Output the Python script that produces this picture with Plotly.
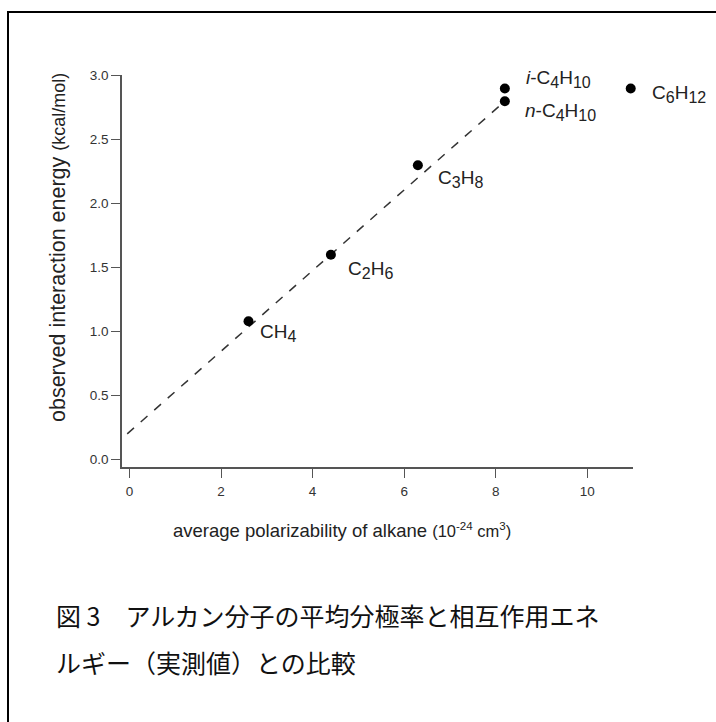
import plotly.graph_objects as go

# ---- data ----
molecules = ["CH<sub>4</sub>", "C<sub>2</sub>H<sub>6</sub>", "C<sub>3</sub>H<sub>8</sub>",
             "<i>i</i>-C<sub>4</sub>H<sub>10</sub>", "<i>n</i>-C<sub>4</sub>H<sub>10</sub>",
             "C<sub>6</sub>H<sub>12</sub>"]
polarizability = [2.6, 4.4, 6.3, 8.2, 8.2, 10.95]
energy = [1.08, 1.60, 2.30, 2.90, 2.80, 2.90]
fit_x = [-0.05, 8.2]
fit_y = [0.20, 2.80]
x_ticks = [0, 2, 4, 6, 8, 10]
y_ticks = [0.0, 0.5, 1.0, 1.5, 2.0, 2.5, 3.0]
label_shift = [(9, -12), (15, -15), (18, -14), (19, 9), (18, -11), (19, -6)]

W_FIG, H_FIG = 716, 722
L, R, T, B = 122, 633, 75, 467
PW, PH = R - L, B - T

def px(xp):
    return (xp - L) / PW

def py(yp):
    return (B - yp) / PH

def chem(s):
    # enlarge subscripts slightly
    return s.replace("<sub>", "<sub><span style='font-size:16px'>").replace("</sub>", "</span></sub>")

fig = go.Figure()
fig.add_trace(go.Scatter(x=fit_x, y=fit_y, mode="lines",
                         line=dict(color="#333", width=1.5, dash="dash"),
                         hoverinfo="skip", showlegend=False))
fig.add_trace(go.Scatter(x=polarizability, y=energy, mode="markers",
                         marker=dict(color="black", size=10), cliponaxis=False,
                         showlegend=False))

for m, xv, yv, (dx, dy) in zip(molecules, polarizability, energy, label_shift):
    fig.add_annotation(x=xv, y=yv, text=chem(m), showarrow=False, xanchor="left",
                       yanchor="middle", xshift=dx, yshift=dy,
                       font=dict(family="Liberation Sans, Arial", size=19, color="#222"))

axis_common = dict(showline=True, linecolor="#555", linewidth=1.5, ticks="outside",
                   ticklen=9, tickwidth=1.3, tickcolor="#555", showgrid=False,
                   zeroline=False,
                   tickfont=dict(family="Liberation Sans, Arial", size=13.5, color="#333"))

fig.update_layout(
    width=W_FIG, height=H_FIG,
    margin=dict(l=L, r=W_FIG - R, t=T, b=H_FIG - B),
    paper_bgcolor="white", plot_bgcolor="white",
    xaxis=dict(range=[-0.164, 11.0], tickvals=x_ticks, ticklabelstandoff=2,
               ticktext=[str(v) for v in x_ticks], **axis_common),
    yaxis=dict(range=[-0.059, 3.005], tickvals=y_ticks,
               ticktext=[f"{v:.1f}" for v in y_ticks], **axis_common),
)

# axis titles
fig.add_annotation(xref="paper", yref="paper", x=px(342), y=py(530),
                   text="average polarizability of alkane <span style='font-size:16.5px'>(10<sup>-24</sup> cm<sup>3</sup>)</span>",
                   showarrow=False, xanchor="center", yanchor="middle",
                   font=dict(family="Liberation Sans, Arial", size=18.5, color="#222"))
fig.add_annotation(xref="paper", yref="paper", x=px(58), y=py(248),
                   text="observed interaction energy <span style='font-size:18px'>(kcal/mol)</span>",
                   showarrow=False, textangle=-90, xanchor="center", yanchor="middle",
                   font=dict(family="Liberation Sans, Arial", size=21.5, color="#222"))

# caption
cap_font = dict(family="Noto Sans CJK JP", size=25, color="#111")
fig.add_annotation(xref="paper", yref="paper", x=px(54), y=py(615),
                   text="図 3　アルカン分子の平均分極率と相互作用エネ",
                   showarrow=False, xanchor="left", yanchor="middle", font=cap_font)
fig.add_annotation(xref="paper", yref="paper", x=px(54), y=py(662),
                   text="ルギー（実測値）との比較",
                   showarrow=False, xanchor="left", yanchor="middle", font=cap_font)

# frame lines
fig.add_shape(type="line", xref="paper", yref="paper", x0=px(8), x1=px(716),
              y0=py(12), y1=py(12), line=dict(color="black", width=2))
fig.add_shape(type="line", xref="paper", yref="paper", x0=px(8), x1=px(8),
              y0=py(11), y1=py(722), line=dict(color="black", width=2))

fig.write_html("out.html", config={"displayModeBar": False},
               post_script="document.body.style.margin='0';document.body.style.overflow='hidden';")
